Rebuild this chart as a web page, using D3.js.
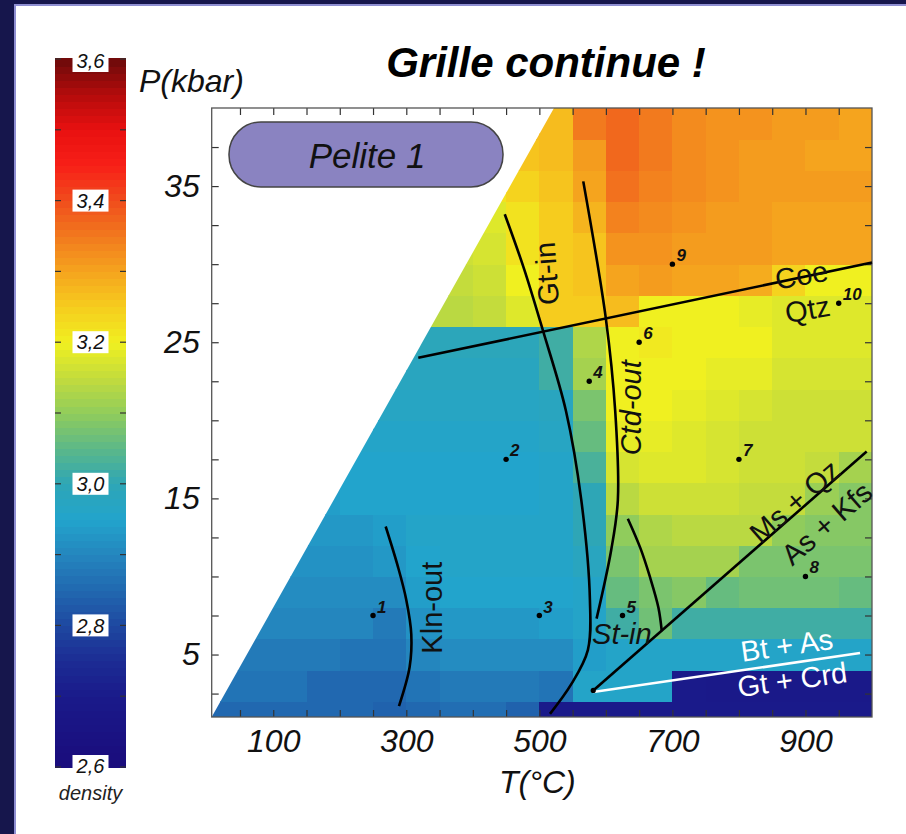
<!DOCTYPE html>
<html lang="fr">
<head>
<meta charset="UTF-8"/>
<title>Grille continue</title>
<script src="https://d3js.org/d3.v7.min.js"></script>
<style>
  body { margin: 0; background: #ffffff; }
  text { font-family: "Liberation Sans", Arial, sans-serif; }
</style>
</head>
<body>
<div id="chart"></div>
<script>
// ---- data ----

// grid edges (T in °C, P in kbar)
var tEdges = [0,50,100,150,200,250,300,350,400,450,500,550,600,650,700,750,800,850,900,950,1000]
var pEdges = [0,2,4,6,8,10,12,14,16,18,20,22,24,26,28,30,32,34,36,38,40]

// density per cell, rows from low P to high P (null = outside computed field)
var density = [
  [2.85,2.85,2.85,2.85,2.85,2.84,2.85,2.86,2.86,2.84,2.70,2.70,2.70,2.70,2.70,2.70,2.70,2.70,2.70,2.70],
  [2.87,2.87,2.87,2.85,2.85,2.85,2.87,2.88,2.88,2.88,2.87,2.96,2.96,2.96,2.70,2.69,2.69,2.69,2.69,2.69],
  [2.88,2.88,2.88,2.88,2.87,2.87,2.90,2.91,2.91,2.91,2.91,2.94,2.96,2.96,2.96,2.96,2.96,2.96,2.96,2.96],
  [null,2.90,2.90,2.90,2.90,2.88,2.92,2.93,2.93,2.93,2.94,2.96,3.02,3.07,3.02,3.02,3.02,3.02,3.02,3.02],
  [null,null,2.91,2.91,2.91,2.91,2.94,2.95,2.95,2.95,2.95,2.96,3.06,3.08,3.09,3.06,3.07,3.07,3.07,3.06],
  [null,null,2.92,2.92,2.92,2.93,2.95,2.96,2.96,2.96,2.96,2.98,3.08,3.12,3.12,3.12,3.08,3.08,3.08,3.08],
  [null,null,null,2.93,2.93,2.94,2.96,2.96,2.96,2.96,2.96,3.00,3.10,3.13,3.14,3.14,3.14,3.10,3.09,3.09],
  [null,null,null,2.94,2.95,2.95,2.95,2.95,2.95,2.95,2.96,3.00,3.14,3.16,3.16,3.16,3.15,3.15,3.11,3.09],
  [null,null,null,null,2.95,2.95,2.95,2.95,2.95,2.95,2.96,3.03,3.17,3.18,3.18,3.17,3.16,3.16,3.15,3.12],
  [null,null,null,null,2.96,2.96,2.96,2.96,2.96,2.96,2.97,3.06,3.19,3.19,3.18,3.17,3.16,3.16,3.16,3.16],
  [null,null,null,null,null,2.97,2.97,2.97,2.97,2.97,2.98,3.08,3.20,3.20,3.19,3.18,3.17,3.16,3.16,3.16],
  [null,null,null,null,null,2.98,2.98,2.98,2.98,2.98,3.02,3.12,3.20,3.20,3.20,3.19,3.19,3.17,3.17,3.17],
  [null,null,null,null,null,null,2.99,2.99,2.99,2.99,3.02,3.13,3.20,3.21,3.20,3.20,3.20,3.18,3.18,3.18],
  [null,null,null,null,null,null,3.14,3.14,3.15,3.18,3.25,3.25,3.27,3.20,3.20,3.20,3.19,3.18,3.18,3.18],
  [null,null,null,null,null,null,null,3.15,3.16,3.20,3.25,3.26,3.30,3.31,3.30,3.30,3.29,3.24,3.20,3.20],
  [null,null,null,null,null,null,null,3.16,3.17,3.22,3.25,3.26,3.32,3.32,3.31,3.31,3.31,3.30,3.30,3.30],
  [null,null,null,null,null,null,null,null,3.18,3.22,3.25,3.28,3.34,3.33,3.32,3.31,3.31,3.30,3.30,3.30],
  [null,null,null,null,null,null,null,null,3.22,3.24,3.26,3.30,3.36,3.34,3.33,3.32,3.31,3.31,3.31,3.31],
  [null,null,null,null,null,null,null,null,null,3.26,3.27,3.31,3.37,3.35,3.33,3.32,3.31,3.31,3.30,3.30],
  [null,null,null,null,null,null,null,null,null,3.27,3.27,3.35,3.37,3.35,3.33,3.32,3.32,3.31,3.31,3.30]
]

// low-T limit of the computed field
var limitT = [7.5, 522]
var limitP = [1, 40]

// reaction lines
var gtInT   = [448, 477, 505, 540, 563, 576, 573, 548, 516]
var gtInP   = [33.2, 29.7, 25.8, 20.6, 14.9, 8.5, 5.3, 3.1, 1.2]
var ctdOutT = [566, 600, 614, 618, 608, 586]
var ctdOutP = [35.3, 26.5, 20.6, 14.9, 11.7, 7.3]
var klnOutT = [269, 287.6, 300, 307.5, 305, 289]
var klnOutP = [13.2, 10.6, 8.5, 6.3, 4.2, 1.7]
var stInT   = [633, 652, 666, 679, 684]
var stInP   = [13.7, 11.8, 10.0, 8.0, 6.5]
var coeT    = [318, 1000]
var coeP    = [24.0, 30.1]
var msT     = [581, 992]
var msP     = [2.7, 18.0]
var btT     = [581, 982]
var btP     = [2.6, 5.1]

// samples
var sampleName = ["1","2","3","4","5","6","7","8","9","10"]
var sampleT = [250, 450, 500, 575, 625, 650, 800, 900, 700, 950]
var sampleP = [7.5, 17.5, 7.5, 22.5, 7.5, 25, 17.5, 10, 30, 27.5]

// axes
var xTickValues = [50,100,150,200,250,300,350,400,450,500,550,600,650,700,750,800,850,900,950]
var xTickLabels = [100,300,500,700,900]
var yTickValues = [2.5,5,7.5,10,12.5,15,17.5,20,22.5,25,27.5,30,32.5,35,37.5]
var yTickLabels = [5,15,25,35]
var cbTickValues = [2.6,2.7,2.8,2.9,3.0,3.1,3.2,3.3,3.4,3.5,3.6]
var cbTickLabels = [3.6,3.4,3.2,3.0,2.8,2.6]

// colour ramp of the density bar
var rampStops  = [2.60,2.70,2.75,2.80,2.85,2.90,2.95,3.00,3.05,3.10,3.15,3.20,3.25,3.30,3.35,3.40,3.45,3.50,3.55,3.60]
var rampColors = ["#1a0c7c","#1a1a8a","#1c2c94","#1e48a0","#2168b0","#2486be","#22a4cc","#2ea6b6","#5cb888","#90cc5c",
                  "#c4dc3c","#f0f020","#f6cc1e","#f5a41e","#f27a1e","#f04c1c","#f82018","#e81010","#b40c0c","#6c0a0a"]

// ---- drawing ----
var width = 906, height = 834

var svg = d3.select("#chart").append("svg")
    .attr("width", width)
    .attr("height", height)

// slide background
svg.append("rect").attr("width", width).attr("height", height).attr("fill", "#16164c")
svg.append("rect").attr("x", 15).attr("y", 5).attr("width", width).attr("height", height)
    .attr("fill", "#ffffff").attr("stroke", "#8f8fd2").attr("stroke-width", 2)

var x = d3.scaleLinear().domain([7.5, 1000]).range([211.7, 872])
var y = d3.scaleLinear().domain([1, 40]).range([717, 108])
var color = d3.scaleLinear().domain(rampStops).range(rampColors).clamp(true)

// clip: the computed field is bounded by the low-T limit
var clipPts = [[x(limitT[0]), y(limitP[0])], [x(limitT[1]), y(limitP[1])],
               [x.range()[1], y(limitP[1])], [x.range()[1], y(limitP[0])]]
svg.append("clipPath").attr("id", "field")
  .append("polygon").attr("points", clipPts.map(function(p){ return p.join(",") }).join(" "))

var cells = []
density.forEach(function(row, j) {
  row.forEach(function(v, i) {
    if (v !== null) cells.push({t0: tEdges[i], t1: tEdges[i+1], p0: pEdges[j], p1: pEdges[j+1], v: v})
  })
})

svg.append("g").attr("clip-path", "url(#field)")
  .selectAll("rect").data(cells).enter().append("rect")
    .attr("x", function(d){ return x(d.t0) })
    .attr("y", function(d){ return y(d.p1) })
    .attr("width", function(d){ return x(d.t1) - x(d.t0) + 0.5 })
    .attr("height", function(d){ return y(d.p0) - y(d.p1) + 0.5 })
    .attr("fill", function(d){ return color(d.v) })
    .attr("shape-rendering", "crispEdges")

// axes with inward ticks
function styleAxis(g) {
  g.select(".domain").remove()
  g.selectAll(".tick line").attr("stroke", "#333").attr("stroke-width", 1.2)
  g.selectAll(".tick text").attr("fill", "#111")
    .style("font-family", "'Liberation Sans', Arial, sans-serif")
    .style("font-style", "italic").style("font-size", "32px")
}

svg.append("g").attr("transform", "translate(0,717)")
  .call(d3.axisBottom(x).tickValues(xTickValues).tickSize(-7).tickPadding(12)
    .tickFormat(function(d){ return xTickLabels.indexOf(d) >= 0 ? d : "" }))
  .call(styleAxis)
svg.append("g").attr("transform", "translate(0,108)")
  .call(d3.axisTop(x).tickValues(xTickValues).tickSize(-7).tickFormat(""))
  .call(styleAxis)
svg.append("g").attr("transform", "translate(211.7,0)")
  .call(d3.axisLeft(y).tickValues(yTickValues).tickSize(-7).tickPadding(12)
    .tickFormat(function(d){ return yTickLabels.indexOf(d) >= 0 ? d : "" }))
  .call(styleAxis)
svg.append("g").attr("transform", "translate(872,0)")
  .call(d3.axisRight(y).tickValues(yTickValues).tickSize(-7).tickFormat(""))
  .call(styleAxis)

svg.append("rect")
    .attr("x", x.range()[0]).attr("y", y.range()[1])
    .attr("width", x.range()[1] - x.range()[0]).attr("height", y.range()[0] - y.range()[1])
    .attr("fill", "none").attr("stroke", "#555").attr("stroke-width", 1.3)

// reaction lines
var curve = d3.line().curve(d3.curveCatmullRom.alpha(0.5))
function pts(ts, ps) { return ts.map(function(t, k){ return [x(t), y(ps[k])] }) }

var lines = [
  {t: gtInT, p: gtInP, c: "#000"}, {t: ctdOutT, p: ctdOutP, c: "#000"},
  {t: klnOutT, p: klnOutP, c: "#000"}, {t: stInT, p: stInP, c: "#000"},
  {t: coeT, p: coeP, c: "#000"}, {t: msT, p: msP, c: "#000"}, {t: btT, p: btP, c: "#fff"}
]
svg.append("g").selectAll("path").data(lines).enter().append("path")
    .attr("d", function(d){ return curve(pts(d.t, d.p)) })
    .attr("fill", "none")
    .attr("stroke", function(d){ return d.c })
    .attr("stroke-width", 2.6)
svg.append("circle").attr("cx", x(msT[0])).attr("cy", y(msP[0])).attr("r", 2.6).attr("fill", "#000")

// phase labels (position in T,P)
var phaseLabels = [
  {s: "Gt-in",   t: 511, p: 29.4, a: -94, it: false, c: "#111"},
  {s: "Ctd-out", t: 638, p: 20.8, a: -90, it: true,  c: "#111"},
  {s: "Kln-out", t: 338, p: 8.0,  a: -90, it: false, c: "#111"},
  {s: "St-in",   t: 624, p: 6.3,  a: 0,   it: true,  c: "#111"},
  {s: "Coe",     t: 894, p: 29.3, a: -10, it: false, c: "#111"},
  {s: "Qtz",     t: 903, p: 27.1, a: -10, it: false, c: "#111"},
  {s: "Ms + Qz", t: 884, p: 14.8, a: -41, it: false, c: "#111"},
  {s: "As + Kfs",t: 932, p: 13.4, a: -41, it: false, c: "#111"},
  {s: "Bt + As", t: 872, p: 5.6,  a: -8,  it: false, c: "#fff"},
  {s: "Gt + Crd",t: 880, p: 3.4,  a: -8,  it: false, c: "#fff"}
]
svg.append("g").selectAll("text").data(phaseLabels).enter().append("text")
    .attr("transform", function(d){ return "translate(" + x(d.t) + "," + y(d.p) + ") rotate(" + d.a + ")" })
    .attr("text-anchor", "middle")
    .attr("dy", "0.35em")
    .style("font-size", "29px")
    .style("font-style", function(d){ return d.it ? "italic" : "normal" })
    .attr("fill", function(d){ return d.c })
    .text(function(d){ return d.s })

// samples
var samples = sampleName.map(function(n, k){ return {n: n, t: sampleT[k], p: sampleP[k]} })
var sg = svg.append("g").selectAll("g").data(samples).enter().append("g")
    .attr("transform", function(d){ return "translate(" + x(d.t) + "," + y(d.p) + ")" })
sg.append("circle").attr("r", 2.7).attr("fill", "#000")
sg.append("text").attr("x", 4).attr("y", -3)
    .style("font-size", "17px").style("font-weight", "bold").style("font-style", "italic")
    .attr("fill", "#111")
    .text(function(d){ return d.n })

// Pelite 1 box
svg.append("rect").attr("x", 229).attr("y", 122).attr("width", 274).attr("height", 65)
    .attr("rx", 32).attr("ry", 32)
    .attr("fill", "#8a83c1").attr("stroke", "#444").attr("stroke-width", 1.5)
svg.append("text").attr("x", 367).attr("y", 168).attr("text-anchor", "middle")
    .style("font-size", "35px").style("font-style", "italic").attr("fill", "#111")
    .text("Pelite 1")

// titles
svg.append("text").attr("x", 546).attr("y", 77).attr("text-anchor", "middle")
    .style("font-size", "42px").style("font-weight", "bold").style("font-style", "italic")
    .attr("fill", "#000").text("Grille continue !")
svg.append("text").attr("x", 139).attr("y", 92)
    .style("font-size", "32px").style("font-style", "italic").attr("fill", "#111")
    .text("P(kbar)")
svg.append("text").attr("x", 499).attr("y", 793)
    .style("font-size", "32px").style("font-style", "italic").attr("fill", "#111")
    .text("T(°C)")

// density colour bar
var cb = d3.scaleLinear().domain([2.6, 3.6]).range([767, 59])
var barX = 55, barW = 71
var bands = d3.range(100).map(function(k){ return 2.6 + k * 0.01 })
svg.append("g").selectAll("rect").data(bands).enter().append("rect")
    .attr("x", barX).attr("width", barW)
    .attr("y", function(d){ return d === bands[99] ? 58 : cb(d + 0.01) })
    .attr("height", function(d){ return cb(d) - cb(d + 0.01) + (d === bands[99] ? 1.5 : 0.6) })
    .attr("fill", function(d){ return color(d + 0.005) })
    .attr("shape-rendering", "crispEdges")

var cbTicks = svg.append("g")
cbTicks.selectAll("line.l").data(cbTickValues).enter().append("line")
    .attr("x1", barX).attr("x2", barX + 6)
    .attr("y1", function(d){ return cb(d) }).attr("y2", function(d){ return cb(d) })
    .attr("stroke", "#333").attr("stroke-width", 1.2)
cbTicks.selectAll("line.r").data(cbTickValues).enter().append("line")
    .attr("x1", barX + barW - 6).attr("x2", barX + barW)
    .attr("y1", function(d){ return cb(d) }).attr("y2", function(d){ return cb(d) })
    .attr("stroke", "#333").attr("stroke-width", 1.2)

var fr = d3.formatLocale({decimal: ",", thousands: " ", grouping: [3], currency: ["", ""]}).format(".1f")
var cbl = svg.append("g").selectAll("g").data(cbTickLabels).enter().append("g")
    .attr("transform", function(d){ return "translate(" + (barX + barW / 2) + "," + (cb(d) + (d === 3.6 ? 2 : (d === 2.6 ? -1 : 0))) + ")" })
cbl.append("rect").attr("x", -18).attr("y", -11).attr("width", 36).attr("height", 22).attr("fill", "#fff")
cbl.append("text").attr("text-anchor", "middle").attr("dy", "0.36em")
    .style("font-size", "20px").style("font-style", "italic").attr("fill", "#111")
    .text(function(d){ return fr(d) })
svg.append("text").attr("x", barX + barW / 2).attr("y", 800).attr("text-anchor", "middle")
    .style("font-size", "20px").style("font-style", "italic").attr("fill", "#222")
    .text("density")
</script>
</body>
</html>
